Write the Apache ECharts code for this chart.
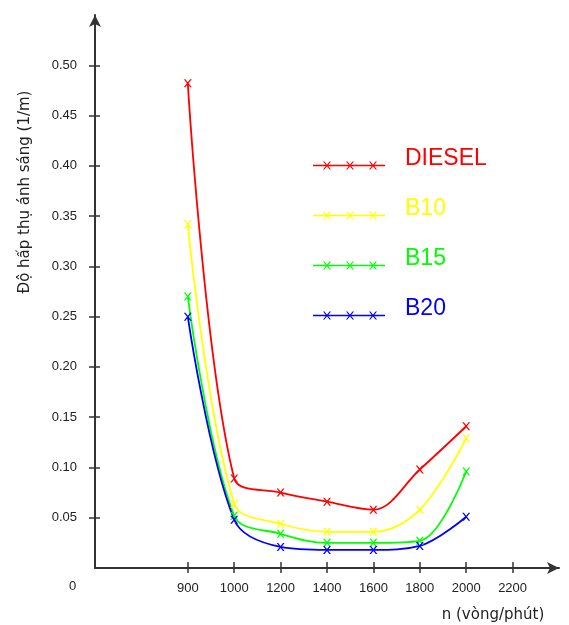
<!DOCTYPE html>
<html>
<head>
<meta charset="utf-8">
<script src="https://cdn.jsdelivr.net/npm/echarts@6/dist/echarts.min.js"></script>
<style>html,body{margin:0;padding:0;background:#fff}#c{width:569px;height:625px}</style>
</head>
<body>
<div id="c"></div>
<script>
const xLabels = ['', ' ', '900', '1000', '1200', '1400', '1600', '1800', '2000', '2200', '  '];
const rpm = ['900', '1000', '1200', '1400', '1600', '1800', '2000'];
const diesel = [0.482, 0.089, 0.075, 0.066, 0.058, 0.098, 0.141];
const b10 = [0.342, 0.064, 0.044, 0.036, 0.036, 0.058, 0.129];
const b15 = [0.270, 0.052, 0.034, 0.025, 0.025, 0.027, 0.096];
const b20 = [0.250, 0.048, 0.021, 0.018, 0.018, 0.022, 0.051];
const yTicks = [0.05, 0.10, 0.15, 0.20, 0.25, 0.30, 0.35, 0.40, 0.45, 0.50];
const seriesNames = ['DIESEL', 'B10', 'B15', 'B20'];
const seriesColors = ['#ff0000', '#ffff00', '#00ff00', '#0000ff'];
const seriesValues = [diesel, b10, b15, b20];

const crossPath = 'path://M0,0 L1.6,0 L8,8 L6.4,8 Z M6.4,0 L8,0 L1.6,8 L0,8 Z';
function cross(cx) {
  return 'M' + (cx - 4) + ',0 L' + (cx - 2.6) + ',0 L' + (cx + 4) + ',8 L' + (cx + 2.6) + ',8 Z ' +
         'M' + (cx + 2.6) + ',0 L' + (cx + 4) + ',0 L' + (cx - 2.6) + ',8 L' + (cx - 4) + ',8 Z ';
}
// tiny invisible anchor at top so the line sits below the text centre
const legendIcon = 'path://M36,-14 L36.01,-14 L36,-13.99 Z M0,3.2 L72,3.2 L72,4.8 L0,4.8 Z ' + cross(14) + cross(37) + cross(60);

const isTickCat = function (idx, val) { return String(val).trim() !== ''; };

const chart = echarts.init(document.getElementById('c'), null, { renderer: 'canvas' });
const axisColor = '#333';
chart.setOption({
  animation: false,
  backgroundColor: '#fff',
  grid: { left: 95, right: 10, top: 15, bottom: 57 },
  legend: {
    orient: 'vertical',
    left: 313,
    top: 147,
    padding: 0,
    itemWidth: 72,
    itemHeight: 22,
    itemGap: 27,
    icon: legendIcon,
    selectedMode: false,
    textStyle: { fontFamily: 'Liberation Sans, Arial, sans-serif', fontSize: 23, lineHeight: 22, padding: [0, 0, 0, 15] },
    data: seriesNames.map((n, i) => ({ name: n, textStyle: { color: seriesColors[i] } }))
  },
  xAxis: [{
    type: 'category',
    position: 'bottom',
    data: xLabels,
    boundaryGap: false,
    axisLine: { show: true, lineStyle: { color: axisColor, width: 2 }, symbol: ['none', 'arrow'], symbolSize: [9, 12] },
    axisTick: { show: true, inside: false, length: 5, interval: isTickCat, lineStyle: { color: axisColor, width: 1.5 } },
    axisLabel: { interval: isTickCat, margin: 14, color: '#222', fontSize: 13, fontFamily: 'Liberation Sans, Arial, sans-serif' },
    splitLine: { show: false }
  }, {
    type: 'category',
    position: 'bottom',
    data: xLabels,
    boundaryGap: false,
    axisLine: { show: false },
    axisTick: { show: true, inside: true, length: 6, interval: isTickCat, lineStyle: { color: axisColor, width: 1.5 } },
    axisLabel: { show: false },
    splitLine: { show: false }
  }],
  yAxis: [{
    type: 'value',
    position: 'left',
    min: 0,
    max: 0.55,
    axisLine: { show: true, lineStyle: { color: axisColor, width: 2 }, symbol: ['none', 'arrow'], symbolSize: [9, 12] },
    axisTick: { show: true, inside: false, length: 6, customValues: yTicks, lineStyle: { color: axisColor, width: 1.5 } },
    axisLabel: { customValues: yTicks, margin: 18, color: '#222', fontSize: 13, fontFamily: 'Liberation Sans, Arial, sans-serif', formatter: v => v.toFixed(2) },
    splitLine: { show: false }
  }, {
    type: 'value',
    position: 'left',
    min: 0,
    max: 0.55,
    axisLine: { show: false },
    axisTick: { show: true, inside: true, length: 5, customValues: yTicks, lineStyle: { color: axisColor, width: 1.5 } },
    axisLabel: { show: false },
    splitLine: { show: false }
  }],
  graphic: [
    { type: 'text', x: 72.5, y: 586, style: { text: '0', fill: '#222', font: '13px "Liberation Sans", Arial, sans-serif', textAlign: 'center', textVerticalAlign: 'middle' } },
    { type: 'text', x: 25, y: 192, rotation: Math.PI / 2, style: { text: 'Độ hấp thụ ánh sáng (1/m)', fill: '#222', font: '15px "DejaVu Sans", sans-serif', textAlign: 'center', textVerticalAlign: 'middle' } },
    { type: 'text', x: 493, y: 615, style: { text: 'n (vòng/phút)', fill: '#222', font: '15px "DejaVu Sans", sans-serif', textAlign: 'center', textVerticalAlign: 'middle' } }
  ],
  series: seriesNames.map((n, i) => ({
    name: n,
    type: 'line',
    xAxisIndex: 0,
    yAxisIndex: 0,
    smooth: 0.35,
    symbol: crossPath,
    symbolSize: 8,
    showAllSymbol: true,
    lineStyle: { color: seriesColors[i], width: 1.8 },
    itemStyle: { color: seriesColors[i], borderWidth: 0 },
    data: rpm.map((r, j) => [xLabels.indexOf(r), seriesValues[i][j]])
  }))
});
</script>
</body>
</html>
